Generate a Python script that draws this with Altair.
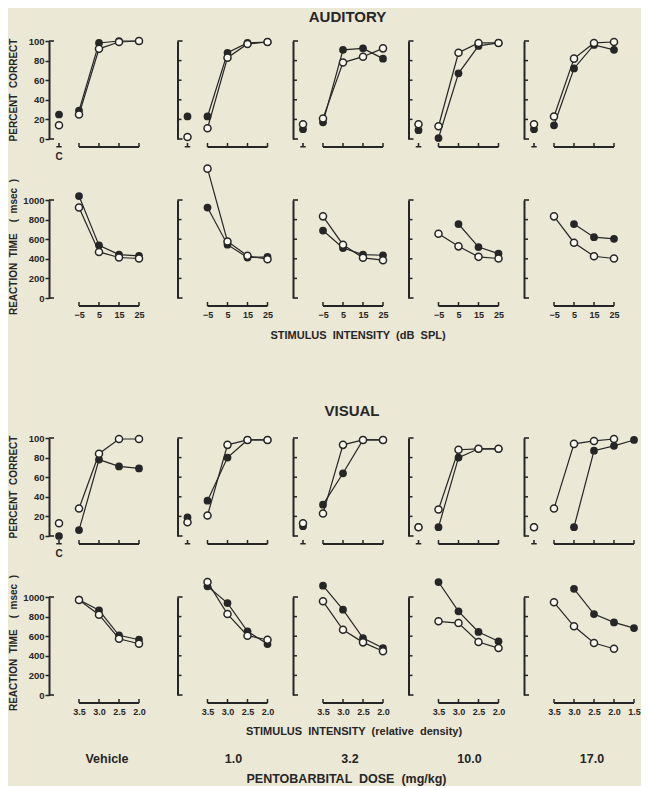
import altair as alt
import pandas as pd

# ---------------- data ----------------
doses = ["Vehicle", "1.0", "3.2", "10.0", "17.0"]
aud_x = [-5, 5, 15, 25]
vis_x = [3.5, 3.0, 2.5, 2.0, 1.5]
aud_ticks = [-5, 5, 15, 25]
vis_ticks_std = [3.5, 3.0, 2.5, 2.0]
vis_ticks_last = [3.5, 3.0, 2.5, 2.0, 1.5]
pc_ticks = [0, 20, 40, 60, 80, 100]
rt_ticks = [0, 200, 400, 600, 800, 1000]

# Auditory percent correct (x = -5, 5, 15, 25)
aud_pc_filled = [[29, 98, 100, 100], [23, 88, 98, 99], [17, 91, 92.5, 82], [1, 67, 95, 98], [14, 72, 96, 91]]
aud_pc_open = [[25, 92, 99, 100], [11, 83, 97, 99], [21, 78, 84, 92.5], [13, 88, 98, 98], [23, 82, 98, 99]]
aud_ctrl_filled = [25, 23, 10, 9, 10]
aud_ctrl_open = [14, 2, 15, 15, 15]

# Auditory reaction time (msec)
aud_rt_filled = [[1040, 537, 443, 430], [923, 544, 413, 420], [688, 510, 443, 436], [None, 755, 520, 453], [None, 755, 621, 604]]
aud_rt_open = [[923, 470, 413, 403], [1320, 577, 430, 396], [833, 544, 410, 386], [655, 527, 420, 403], [833, 564, 426, 403]]

# Visual percent correct (x = 3.5, 3.0, 2.5, 2.0, 1.5)
vis_pc_filled = [[6, 78, 71, 69], [36, 80, 98, 98], [32, 64, 98, 98], [9, 80, 89, 89], [None, 9, 87, 92, 98]]
vis_pc_open = [[28, 84, 99, 99], [21, 93, 98, 98], [23, 93, 98, 98], [27, 88, 89, 89], [28, 94, 97, 99]]
vis_ctrl_filled = [0, 19, 10, 9, 9]
vis_ctrl_open = [13, 14, 13, 9, 9]

# Visual reaction time (msec)
vis_rt_filled = [[972, 864, 609, 564], [1109, 938, 650, 520], [1115, 870, 581, 479], [1153, 854, 643, 548], [None, 1084, 826, 741, 683]]
vis_rt_open = [[970, 819, 574, 523], [1153, 826, 605, 564], [956, 666, 537, 446], [752, 734, 541, 479], [946, 701, 530, 472]]

# ---------------- style / layout ----------------
INK = "#262626"
BG = "#ece8d6"
OPEN_FILL = "#faf8ef"
FONT = "Liberation Sans"
H = 98
W_FIRST = 125
W_OTHER = 112
NB = "\u00a0"


def sp(*words):
    return (" " + NB).join(words)


series = {
    ("aud", "pc"): (aud_pc_filled, aud_pc_open, aud_ctrl_filled, aud_ctrl_open),
    ("aud", "rt"): (aud_rt_filled, aud_rt_open, None, None),
    ("vis", "pc"): (vis_pc_filled, vis_pc_open, vis_ctrl_filled, vis_ctrl_open),
    ("vis", "rt"): (vis_rt_filled, vis_rt_open, None, None),
}

dose_dx = [58, 56, 57, 61, 68]

texts = {
    ("aud", "pc", 0): [(sp("PERCENT", "CORRECT"), -35.5, 49, 10, 270)],
    ("aud", "pc", 2): [("AUDITORY", 54.5, -24, 15, 0)],
    ("aud", "rt", 0): [(sp("REACTION", "TIME", "", "(", "msec", ")"), -35.5, 47, 10, 270)],
    ("aud", "rt", 2): [(sp("STIMULUS", "INTENSITY", "(dB", "SPL)"), 65, 136, 11, 0)],
    ("vis", "pc", 0): [(sp("PERCENT", "CORRECT"), -35.5, 49, 10, 270)],
    ("vis", "pc", 2): [("VISUAL", 59, -27, 15, 0)],
    ("vis", "rt", 0): [(sp("REACTION", "TIME", "", "(", "msec", ")"), -35.5, 46, 10, 270)],
    ("vis", "rt", 2): [(sp("STIMULUS", "INTENSITY", "(relative", "density)"), 61, 135, 11, 0),
                       (sp("PENTOBARBITAL", "DOSE", "(mg/kg)"), 53.5, 182, 12.5, 0)],
}


def text_layer(t, dx, dy, size, angle):
    kw = dict(font=FONT, fontWeight="bold", fontSize=size, color=INK, align="center", baseline="middle")
    if angle:
        kw["angle"] = angle
    return alt.Chart(pd.DataFrame({"t": [t]})).mark_text(**kw).encode(
        text="t:N", x=alt.value(dx), y=alt.value(dy))


def panel(mod, meas, i):
    first = i == 0
    W = W_FIRST if first else W_OTHER
    if mod == "aud":
        xscale = alt.Scale(domain=[-20, -20 + W / 2.0], nice=False, zero=False)
        xvals = aud_x
        xticks = aud_ticks
        ctrl_x = -15
        fmt = "d"
    else:
        xscale = alt.Scale(domain=[4.25 - W / 40.0, 4.25], nice=False, zero=False, reverse=True)
        xvals = vis_x
        xticks = vis_ticks_last if i == 4 else vis_ticks_std
        ctrl_x = 4.0
        fmt = ".1f"
    if meas == "pc":
        ydom, yt = [0, 100], pc_ticks
    else:
        ydom, yt = [0, 1000], rt_ticks
    yscale = alt.Scale(domain=ydom, nice=False, zero=False)

    filled, opn, cf, co = series[(mod, meas)]
    rows = []
    for name, vals in (("filled", filled[i]), ("open", opn[i])):
        for j, v in enumerate(vals):
            if v is not None:
                rows.append({"x": xvals[j], "y": v, "s": name})
    df = pd.DataFrame(rows)

    if first:
        yaxis = alt.Axis(values=yt, format="d", tickSize=4, tickWidth=1.5, tickColor=INK,
                         domainColor=INK, domainWidth=2, labelFont=FONT, labelFontWeight="bold",
                         labelFontSize=9.5, labelColor=INK, labelPadding=1, title=None, grid=False)
    else:
        yaxis = alt.Axis(values=yt, ticks=False, labels=False, domainColor=INK, domainWidth=2,
                         title=None, grid=False)
    if meas == "rt":
        xaxis = alt.Axis(values=xticks, offset=8, domain=False, ticks=False, tickSize=0,
                         labelPadding=4, format=fmt, labelFont=FONT, labelFontWeight="bold",
                         labelFontSize=9, labelColor=INK, title=None, grid=False)
    else:
        xaxis = None

    def X():
        return alt.X("x:Q", scale=xscale, axis=xaxis)

    def Y():
        return alt.Y("y:Q", scale=yscale, axis=yaxis)

    layers = []
    # y bracket ends
    layers.append(alt.Chart(pd.DataFrame({"y": [ydom[0], ydom[1]]})).mark_rule(
        color=INK, strokeWidth=1.6).encode(y=Y(), x=alt.value(0), x2=alt.value(5)))
    if not first:
        layers.append(alt.Chart(pd.DataFrame({"y": yt[1:-1]})).mark_rule(
            color=INK, strokeWidth=1.5).encode(y=Y(), x=alt.value(0), x2=alt.value(4)))
    # x bracket
    layers.append(alt.Chart(pd.DataFrame({"x": [xticks[0]], "x2": [xticks[-1]]})).mark_rule(
        color=INK, strokeWidth=1.8).encode(x=X(), x2="x2:Q", y=alt.value(H + 8)))
    layers.append(alt.Chart(pd.DataFrame({"x": xticks})).mark_rule(
        color=INK, strokeWidth=1.5).encode(x=X(), y=alt.value(H + 4), y2=alt.value(H + 8)))
    # lines
    layers.append(alt.Chart(df).mark_line(color=INK, strokeWidth=1.2).encode(
        x=X(), y=Y(), detail="s:N"))
    # points
    layers.append(alt.Chart(df[df.s == "filled"]).mark_circle(
        color=INK, opacity=1, size=60).encode(x=X(), y=Y()))
    layers.append(alt.Chart(df[df.s == "open"]).mark_circle(
        fill=OPEN_FILL, stroke=INK, strokeWidth=1.5, opacity=1, size=50).encode(x=X(), y=Y()))
    # control points
    if cf is not None:
        layers.append(alt.Chart(pd.DataFrame({"x": [ctrl_x], "y": [cf[i]]})).mark_circle(
            color=INK, opacity=1, size=60).encode(x=X(), y=Y()))
        layers.append(alt.Chart(pd.DataFrame({"x": [ctrl_x], "y": [co[i]]})).mark_circle(
            fill=OPEN_FILL, stroke=INK, strokeWidth=1.5, opacity=1, size=50).encode(x=X(), y=Y()))
        layers.append(alt.Chart(pd.DataFrame({"x": [ctrl_x]})).mark_point(
            shape="M-1,1L1,1M0,1L0,-0.4", filled=False, stroke=INK, strokeWidth=1.6,
            size=30, opacity=1).encode(x=X(), y=alt.value(H + 5)))
        if first:
            layers.append(alt.Chart(pd.DataFrame({"x": [ctrl_x], "t": ["C"]})).mark_text(
                font=FONT, fontWeight="bold", fontSize=10, color=INK, baseline="middle").encode(
                x=X(), y=alt.value(H + 18), text="t:N"))
    for (t, dx, dy, size, angle) in texts.get((mod, meas, i), []):
        layers.append(text_layer(t, dx, dy, size, angle))
    if mod == "vis" and meas == "rt":
        layers.append(text_layer(doses[i], dose_dx[i], H + 64, 12.5, 0))

    return alt.layer(*layers).properties(width=W, height=H)


def spacer(i):
    W = W_FIRST if i == 0 else W_OTHER
    return alt.Chart(pd.DataFrame({"a": [0]})).mark_point(opacity=0).encode(
        x=alt.value(0), y=alt.value(0)).properties(width=W, height=18)


cells = []
cells += [panel("aud", "pc", i) for i in range(5)]
cells += [panel("aud", "rt", i) for i in range(5)]
cells += [spacer(i) for i in range(5)]
cells += [panel("vis", "pc", i) for i in range(5)]
cells += [panel("vis", "rt", i) for i in range(5)]

chart = alt.concat(
    *cells, columns=5, spacing={"row": 61, "column": 3.5}, bounds="flush", align="each"
).properties(
    padding={"left": 0, "top": 2, "right": 0, "bottom": 0}
).configure(
    background=BG
).configure_view(
    strokeWidth=0
).configure_axis(
    grid=False
)

chart.save("out.html", embed_options={"renderer": "svg", "actions": False})
